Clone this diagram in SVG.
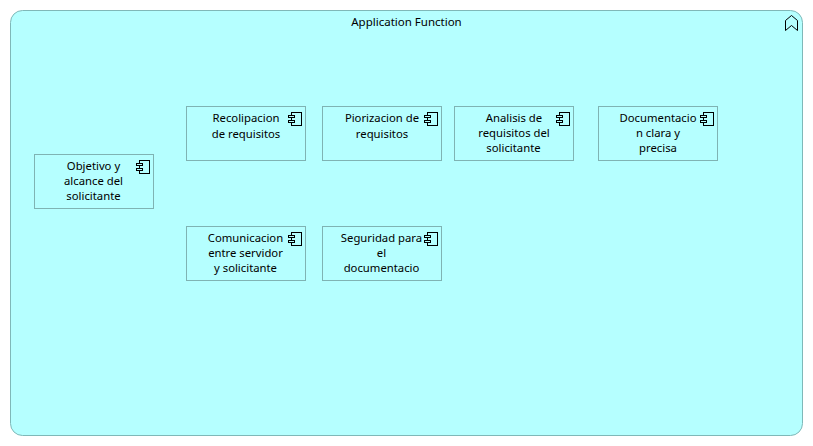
<svg xmlns="http://www.w3.org/2000/svg" width="813" height="446" viewBox="0 0 813 446">
<style>
.c{fill:#b5ffff;stroke:#7fb8b8;stroke-width:1}
.n{fill:#b5ffff;stroke:#7fb3b3;stroke-width:1}
.g{fill:none;stroke:#000;stroke-width:1}
.gf{fill:#b5ffff;stroke:#000;stroke-width:1}
text{font-family:"Noto Sans","Open Sans","Liberation Sans",sans-serif;font-size:11.3px;fill:#000;text-anchor:middle}
#title{font-size:11.5px}
</style>
<defs>
<g id="ic">
<rect class="g" x="3.5" y="0.5" width="10" height="13"/>
<rect class="gf" x="0.5" y="3.5" width="6" height="2"/>
<rect class="gf" x="0.5" y="8.5" width="6" height="2"/>
</g>
</defs>
<rect width="813" height="446" fill="#fff"/>
<g id="container">
<rect class="c" x="10.5" y="10.5" width="792" height="425" rx="12" ry="12"/>
<text id="title" x="406.5" y="26">Application Function</text>
<path class="g" d="M785.5 20.5L791.5 15.5L797.5 20.5V30.5L791.5 25.5L785.5 30.5Z"/>
</g>
<g id="connectors"/>
<g id="n1"><rect class="n" x="34.5" y="154.5" width="119" height="54"/><use href="#ic" x="136" y="160"/><text x="93.5" y="170">Objetivo y</text><text x="93.5" y="185">alcance del</text><text x="93.5" y="200">solicitante</text></g>
<g id="n2"><rect class="n" x="186.5" y="106.5" width="119" height="54"/><use href="#ic" x="288" y="112"/><text x="246" y="122">Recolipacion</text><text x="246" y="138">de requisitos</text></g>
<g id="n3"><rect class="n" x="322.5" y="106.5" width="119" height="54"/><use href="#ic" x="424" y="112"/><text x="382" y="122">Piorizacion de</text><text x="382" y="138">requisitos</text></g>
<g id="n4"><rect class="n" x="454.5" y="106.5" width="119" height="54"/><use href="#ic" x="556" y="112"/><text x="514" y="122">Analisis de</text><text x="514" y="137">requisitos del</text><text x="513.5" y="152">solicitante</text></g>
<g id="n5"><rect class="n" x="598.5" y="106.5" width="119" height="54"/><use href="#ic" x="700" y="112"/><text x="658" y="122">Documentacio</text><text x="658" y="137">n clara y</text><text x="658" y="152">precisa</text></g>
<g id="n6"><rect class="n" x="186.5" y="226.5" width="119" height="54"/><use href="#ic" x="288" y="232"/><text x="245.5" y="242">Comunicacion</text><text x="245.5" y="257">entre servidor</text><text x="245.5" y="272">y solicitante</text></g>
<g id="n7"><rect class="n" x="322.5" y="226.5" width="119" height="54"/><use href="#ic" x="424" y="232"/><text x="381.5" y="242">Seguridad para</text><text x="381.5" y="257">el</text><text x="381.5" y="272">documentacio</text></g>
</svg>
